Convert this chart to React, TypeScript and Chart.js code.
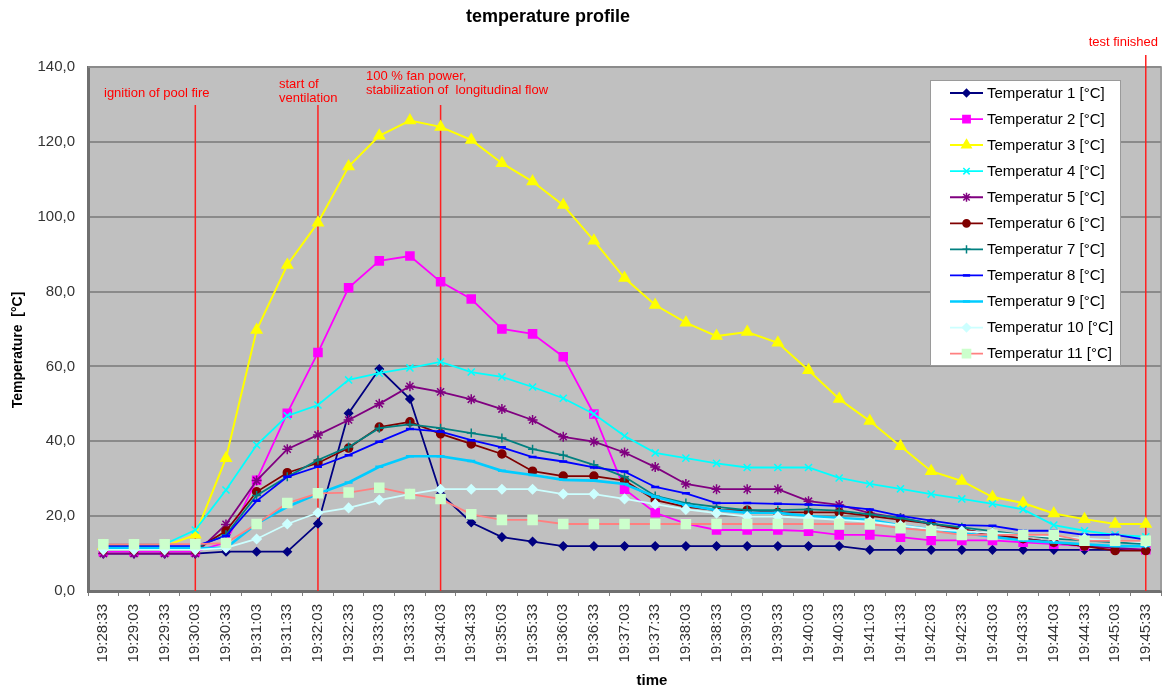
import React, { useEffect, useRef } from 'react';
import { Chart, registerables } from 'chart.js';

Chart.register(...registerables);

const FONT = '"Liberation Sans", Arial, Helvetica, sans-serif';

// ---------- data ----------
const timeLabels = [
  '19:28:33', '19:29:03', '19:29:33', '19:30:03', '19:30:33', '19:31:03', '19:31:33',
  '19:32:03', '19:32:33', '19:33:03', '19:33:33', '19:34:03', '19:34:33', '19:35:03',
  '19:35:33', '19:36:03', '19:36:33', '19:37:03', '19:37:33', '19:38:03', '19:38:33',
  '19:39:03', '19:39:33', '19:40:03', '19:40:33', '19:41:03', '19:41:33', '19:42:03',
  '19:42:33', '19:43:03', '19:43:33', '19:44:03', '19:44:33', '19:45:03', '19:45:33',
];

const seriesNames = [
  'Temperatur 1 [°C]', 'Temperatur 2 [°C]', 'Temperatur 3 [°C]', 'Temperatur 4 [°C]',
  'Temperatur 5 [°C]', 'Temperatur 6 [°C]', 'Temperatur 7 [°C]', 'Temperatur 8 [°C]',
  'Temperatur 9 [°C]', 'Temperatur 10 [°C]', 'Temperatur 11 [°C]',
];

const temp1 = [10, 10, 10, 10, 10.5, 10.5, 10.5, 18, 47.5, 59.3, 51.3, 26, 18.3, 14.4, 13.2, 12, 12, 12, 12, 12, 12, 12, 12, 12, 12, 11, 11, 11, 11, 11, 11, 11, 11, 11, 11];
const temp2 = [10.5, 10.5, 10.5, 10.5, 13, 29.6, 47.5, 63.7, 81, 88.2, 89.5, 82.6, 78, 70, 68.7, 62.6, 47.3, 27.2, 20.9, 18, 16.3, 16.3, 16.3, 16, 15, 15, 14.4, 13.5, 13.5, 13.5, 13, 12.5, 12, 11.5, 11];
const temp3 = [12, 12, 12, 15, 35.5, 69.7, 87.1, 98.4, 113.4, 121.6, 125.7, 124, 120.5, 114.3, 109.4, 103.1, 93.6, 83.6, 76.4, 71.7, 68.1, 69.2, 66.3, 59, 51.3, 45.4, 38.7, 32, 29.4, 25.1, 23.5, 20.7, 19.2, 17.9, 17.9];
const temp4 = [12.5, 12.5, 12.5, 16.3, 27, 39, 46.8, 49.7, 56.4, 58.2, 59.6, 61.2, 58.5, 57.2, 54.5, 51.5, 47.3, 41.4, 36.9, 35.5, 34.1, 33, 33, 33, 30.2, 28.6, 27.3, 25.9, 24.6, 23.3, 21.8, 17.6, 16.1, 15, 14.5];
const temp5 = [10, 10, 10, 10, 17.8, 29.5, 37.9, 41.7, 45.7, 50, 54.7, 53.2, 51.2, 48.6, 45.7, 41.2, 39.9, 37, 33.1, 28.6, 27.2, 27.2, 27.2, 24, 23, 20.8, 19.5, 18, 16.5, 15, 14, 13, 12, 11.5, 11];
const temp6 = [11, 11, 11, 11, 16, 26.5, 31.6, 34.2, 38.2, 43.8, 45.2, 42, 39.3, 36.6, 32, 30.7, 30.7, 29.5, 24.3, 22.5, 21.6, 21.6, 21, 21, 21, 20.1, 19, 18, 16.5, 15, 14, 13, 12, 10.8, 10.8];
const temp7 = [11.5, 11.5, 11.5, 11.5, 15, 25.5, 30.5, 35, 38.5, 43.5, 44.5, 43.5, 42.2, 40.9, 37.9, 36.3, 33.7, 30.5, 25.4, 23.5, 22.5, 21.6, 21.6, 21.8, 21.5, 20.5, 19.5, 18, 17, 16, 15, 14, 13.5, 13, 12.5];
const temp8 = [12, 12, 12, 12, 14.7, 24.1, 30.5, 33.2, 36.3, 39.9, 43.3, 42.6, 40.3, 38.4, 35.8, 34.6, 33, 31.9, 27.8, 26.1, 23.5, 23.5, 23.3, 23.1, 22.7, 21.8, 20.1, 18.8, 17.6, 17.4, 16.1, 16.1, 15, 15, 13.7];
const temp9 = [11.5, 11.5, 11.5, 11.5, 11.5, 18, 22.5, 26, 29, 33.2, 36, 36, 34.7, 32.1, 31, 29.7, 29.5, 28.6, 25.2, 23, 21.6, 20.9, 20.9, 20, 19.5, 19, 17.5, 16.5, 15.5, 14.5, 13.5, 13, 12.5, 12, 12];
const temp10 = [11, 11, 11, 11, 11.5, 13.9, 17.9, 20.9, 22.2, 24.3, 25.9, 27.2, 27.2, 27.2, 27.2, 25.9, 25.9, 24.6, 23.2, 21.8, 20.8, 19.9, 19.9, 19.5, 19, 18.5, 17.5, 16.5, 16, 15.5, 15, 14.5, 14, 13.5, 13];
const temp11 = [12.5, 12.5, 12.5, 12.5, 12.8, 17.9, 23.5, 26.1, 26.3, 27.6, 25.9, 24.6, 20.5, 19, 19, 17.9, 17.9, 17.9, 17.9, 17.9, 17.9, 17.9, 17.9, 17.9, 17.9, 17.9, 16.8, 16.1, 15, 15, 15, 15, 13.4, 13.4, 13.4];

const seriesValues = [temp1, temp2, temp3, temp4, temp5, temp6, temp7, temp8, temp9, temp10, temp11];

// event markers (category label at which each vertical line is drawn)
const eventTimes = ['19:30:03', '19:32:03', '19:34:03', '19:45:33'];
const eventTexts = [
  ['ignition of pool fire'],
  ['start of', 'ventilation'],
  ['100 % fan power,', 'stabilization of  longitudinal flow'],
  ['test finished'],
];

const yMin = 0;
const yMax = 140;
const yStep = 20;

// ---------- styles ----------
const lineColors = ['#000080', '#FF00FF', '#FFFF00', '#00FFFF', '#800080', '#800000', '#008080', '#0000FF', '#00CCFF', '#CCFFFF', '#FF8080'];
const markerFill = ['#000080', '#FF00FF', '#FFFF00', '#00FFFF', '#800080', '#800000', '#008080', '#0000FF', '#00CCFF', '#CCFFFF', '#CCFFCC'];
const markerStyles = ['rectRot', 'rect', 'triangle', 'crossRot', 'star', 'circle', 'cross', 'line', 'line', 'rectRot', 'rect'];
const markerRadius = [4, 5.7, 6, 5, 5, 4, 4.5, 4, 4, 4.5, 6.4];
const lineWidths = [1.8, 1.8, 2, 1.8, 1.8, 1.8, 1.8, 1.8, 2.6, 1.8, 1.8];

function drawMarker(ctx: CanvasRenderingContext2D, style: string, x: number, y: number, r: number, fill: string, stroke: string, lw: number) {
  ctx.save();
  ctx.fillStyle = fill;
  ctx.strokeStyle = stroke;
  ctx.lineWidth = lw;
  ctx.beginPath();
  const c = Math.SQRT1_2 * r;
  switch (style) {
    case 'circle':
      ctx.arc(x, y, r, 0, Math.PI * 2);
      ctx.fill();
      ctx.stroke();
      break;
    case 'rect':
      ctx.rect(x - c, y - c, 2 * c, 2 * c);
      ctx.fill();
      ctx.stroke();
      break;
    case 'rectRot':
      ctx.moveTo(x - r, y);
      ctx.lineTo(x, y - r);
      ctx.lineTo(x + r, y);
      ctx.lineTo(x, y + r);
      ctx.closePath();
      ctx.fill();
      ctx.stroke();
      break;
    case 'triangle': {
      for (let k = 0; k < 3; k++) {
        const a = (k * 2 * Math.PI) / 3;
        const px = x + Math.sin(a) * r;
        const py = y - Math.cos(a) * r;
        if (k === 0) ctx.moveTo(px, py); else ctx.lineTo(px, py);
      }
      ctx.closePath();
      ctx.fill();
      ctx.stroke();
      break;
    }
    case 'cross':
      ctx.moveTo(x, y - r); ctx.lineTo(x, y + r);
      ctx.moveTo(x - r, y); ctx.lineTo(x + r, y);
      ctx.stroke();
      break;
    case 'crossRot':
      ctx.moveTo(x - c, y - c); ctx.lineTo(x + c, y + c);
      ctx.moveTo(x - c, y + c); ctx.lineTo(x + c, y - c);
      ctx.stroke();
      break;
    case 'star':
      ctx.moveTo(x, y - r); ctx.lineTo(x, y + r);
      ctx.moveTo(x - r, y); ctx.lineTo(x + r, y);
      ctx.moveTo(x - c, y - c); ctx.lineTo(x + c, y + c);
      ctx.moveTo(x - c, y + c); ctx.lineTo(x + c, y - c);
      ctx.stroke();
      break;
    case 'line':
      ctx.moveTo(x - r, y); ctx.lineTo(x + r, y);
      ctx.stroke();
      break;
    default:
      break;
  }
  ctx.restore();
}

const decorPlugin = {
  id: 'decor',
  beforeDraw(chart: any) {
    const { ctx, chartArea: a } = chart;
    ctx.save();
    ctx.fillStyle = '#ffffff';
    ctx.fillRect(0, 0, chart.width, chart.height);
    ctx.fillStyle = '#C0C0C0';
    ctx.fillRect(a.left, a.top, a.right - a.left, a.bottom - a.top);
    ctx.restore();
  },
  beforeDatasetsDraw(chart: any) {
    const { ctx, chartArea: a } = chart;
    const xs = chart.scales.x;
    ctx.save();
    // top / right frame
    ctx.strokeStyle = '#8c8c8c';
    ctx.lineWidth = 1.5;
    ctx.beginPath();
    ctx.moveTo(a.left, a.top);
    ctx.lineTo(a.right, a.top);
    ctx.lineTo(a.right, a.bottom);
    ctx.stroke();

    // event lines and texts
    const lineTops = [105, 105, 105, 55];
    const textPos = [
      { x: 104, ys: [93], align: 'left' },
      { x: 279, ys: [84, 98], align: 'left' },
      { x: 366, ys: [76, 90], align: 'left' },
      { x: 1158, ys: [42], align: 'right' },
    ];
    eventTimes.forEach((t, i) => {
      const px = xs.getPixelForValue(timeLabels.indexOf(t));
      ctx.strokeStyle = '#FF2020';
      ctx.lineWidth = 1.5;
      ctx.beginPath();
      ctx.moveTo(px, lineTops[i]);
      ctx.lineTo(px, a.bottom);
      ctx.stroke();
      ctx.fillStyle = '#FF0000';
      ctx.font = `13px ${FONT}`;
      ctx.textBaseline = 'middle';
      ctx.textAlign = textPos[i].align as CanvasTextAlign;
      eventTexts[i].forEach((s, j) => ctx.fillText(s, textPos[i].x, textPos[i].ys[j]));
    });
    ctx.restore();
  },
  afterDraw(chart: any) {
    const { ctx } = chart;
    ctx.save();
    ctx.fillStyle = '#000';
    ctx.textBaseline = 'middle';
    ctx.textAlign = 'center';
    ctx.font = `bold 18px ${FONT}`;
    ctx.fillText('temperature profile', 548, 17);
    ctx.font = `bold 15px ${FONT}`;
    ctx.fillText('time', 652, 681);
    ctx.save();
    ctx.translate(18, 350);
    ctx.rotate(-Math.PI / 2);
    ctx.font = `bold 14px ${FONT}`;
    ctx.fillText('Temperature  [°C]', 0, 0);
    ctx.restore();

    // legend
    const bx = 930, by = 80, bw = 190, bh = 285;
    ctx.fillStyle = '#ffffff';
    ctx.fillRect(bx, by, bw, bh);
    ctx.strokeStyle = '#9a9a9a';
    ctx.lineWidth = 1;
    ctx.strokeRect(bx + 0.5, by + 0.5, bw, bh);
    seriesNames.forEach((name, i) => {
      const y = 93 + i * 26.06;
      ctx.strokeStyle = lineColors[i];
      ctx.lineWidth = lineWidths[i];
      ctx.beginPath();
      ctx.moveTo(950, y);
      ctx.lineTo(983, y);
      ctx.stroke();
      drawMarker(ctx, markerStyles[i], 966.5, y, markerRadius[i] * 0.9, markerFill[i], markerFill[i], markerStyles[i] === 'line' ? 2.5 : 1.5);
      ctx.fillStyle = '#000';
      ctx.textAlign = 'left';
      ctx.font = `15px ${FONT}`;
      ctx.fillText(name, 987, y + 0.5);
    });
    ctx.restore();
  },
};

export default function App() {
  const canvasRef = useRef<HTMLCanvasElement>(null);

  useEffect(() => {
    if (!canvasRef.current) return;
    const datasets = seriesNames.map((name, i) => ({
      label: name,
      data: seriesValues[i],
      borderColor: lineColors[i],
      backgroundColor: markerFill[i],
      borderWidth: lineWidths[i],
      pointStyle: markerStyles[i],
      pointRadius: markerRadius[i],
      pointBackgroundColor: markerFill[i],
      pointBorderColor: markerFill[i],
      pointBorderWidth: markerStyles[i] === 'line' ? 2.5 : 1.5,
      tension: 0,
      fill: false,
      order: seriesNames.length - 1 - i,
    }));

    const chart = new Chart(canvasRef.current, {
      type: 'line',
      data: { labels: timeLabels, datasets },
      plugins: [decorPlugin],
      options: {
        animation: false,
        responsive: true,
        maintainAspectRatio: false,
        events: [],
        layout: { padding: { top: 67, right: 1, left: 0, bottom: 0 } },
        plugins: {
          legend: { display: false },
          title: { display: false },
          tooltip: { enabled: false },
        },
        scales: {
          x: {
            type: 'category',
            offset: true,
            grid: {
              display: true,
              drawOnChartArea: false,
              drawTicks: true,
              tickLength: 5,
              color: '#808080',
              offset: true,
            },
            border: { display: true, color: '#707070', width: 3 },
            ticks: {
              autoSkip: false,
              maxRotation: 90,
              minRotation: 90,
              padding: 8,
              color: '#333333',
              font: { family: FONT, size: 15 },
            },
            afterFit: (s: any) => {
              s.height = 100;
              s.paddingLeft = 0;
              s.paddingRight = 0;
            },
          },
          y: {
            min: yMin,
            max: yMax,
            ticks: {
              stepSize: yStep,
              padding: 13,
              color: '#333333',
              font: { family: FONT, size: 15 },
              callback: (v: any) => Number(v).toFixed(1).replace('.', ','),
            },
            grid: { color: '#8a8a8a', lineWidth: 2, drawTicks: false },
            border: { display: true, color: '#707070', width: 3 },
            afterFit: (s: any) => {
              s.width = 88;
              s.paddingTop = 0;
              s.paddingBottom = 0;
            },
          },
        },
      } as any,
    });
    return () => chart.destroy();
  }, []);

  return (
    <div style={{ position: 'fixed', left: 0, top: 0, width: 1169, height: 691, background: '#fff' }}>
      <canvas ref={canvasRef} />
    </div>
  );
}
